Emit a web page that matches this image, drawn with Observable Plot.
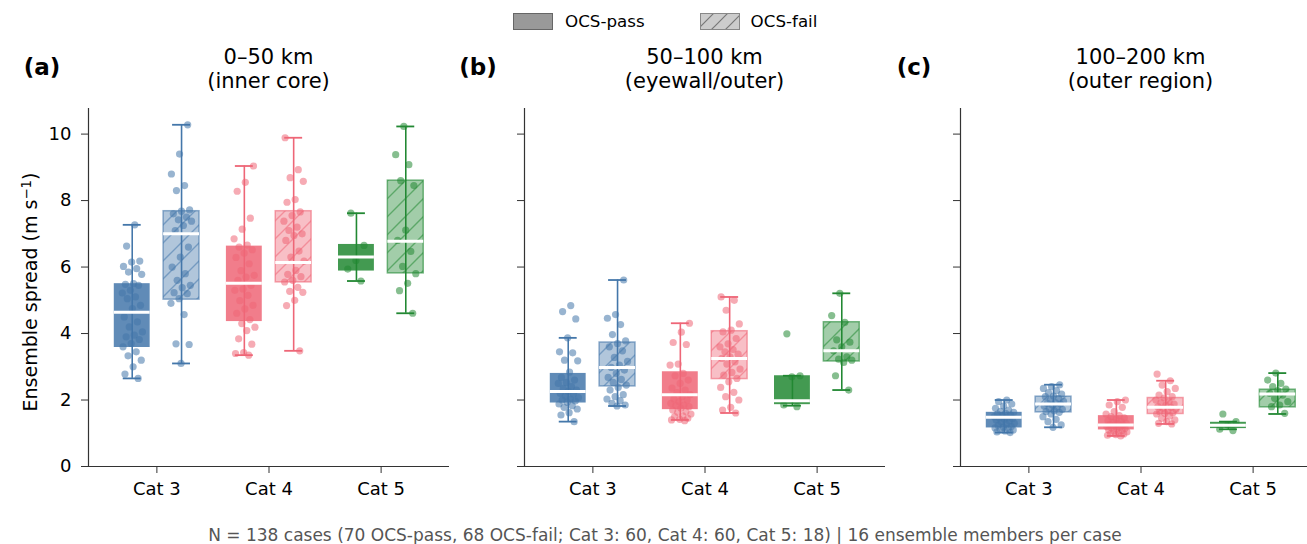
<!DOCTYPE html>
<html><head><meta charset="utf-8">
<script src="https://cdn.jsdelivr.net/npm/d3@7"></script>
<script src="https://cdn.jsdelivr.net/npm/@observablehq/plot@0.6"></script>
<style>
body{margin:0;background:#fff;font-family:"DejaVu Sans",sans-serif;}
#root{position:relative;width:1307px;height:544px;overflow:hidden;background:#fff;}
.c{position:absolute;white-space:nowrap;transform:translate(-50%,-50%);color:#000;}
sup{font-size:0.7em;vertical-align:0.45em;line-height:0;}
</style></head><body>
<svg width="0" height="0" style="position:absolute">
<defs>
<pattern id="hatch0" patternUnits="userSpaceOnUse" width="18" height="18"><rect width="18" height="18" fill="#4477AA" fill-opacity="0.42"/><path d="M-2,2 l4,-4 M0,18 l18,-18 M16,20 l4,-4" stroke="#4477AA" stroke-opacity="0.55" stroke-width="1.4"/></pattern>
<pattern id="hatch1" patternUnits="userSpaceOnUse" width="18" height="18"><rect width="18" height="18" fill="#EE6677" fill-opacity="0.42"/><path d="M-2,2 l4,-4 M0,18 l18,-18 M16,20 l4,-4" stroke="#EE6677" stroke-opacity="0.55" stroke-width="1.4"/></pattern>
<pattern id="hatch2" patternUnits="userSpaceOnUse" width="18" height="18"><rect width="18" height="18" fill="#228833" fill-opacity="0.42"/><path d="M-2,2 l4,-4 M0,18 l18,-18 M16,20 l4,-4" stroke="#228833" stroke-opacity="0.55" stroke-width="1.4"/></pattern>
<pattern id="hatchG" patternUnits="userSpaceOnUse" width="14" height="14"><rect width="14" height="14" fill="#999" fill-opacity="0.5"/><path d="M-2,2 l4,-4 M0,14 l14,-14 M12,16 l4,-4" stroke="#777" stroke-width="1.2"/></pattern>
</defs></svg>
<div id="root"></div>
<script>
// ---------- data ----------
const categories = ["Cat 3", "Cat 4", "Cat 5"];
const groups = ["OCS-pass", "OCS-fail"];
const panelTitles = ["0–50 km\n(inner core)", "50–100 km\n(eyewall/outer)", "100–200 km\n(outer region)"];
const panelLetters = ["(a)", "(b)", "(c)"];
const yTicks = [0, 2, 4, 6, 8, 10];

// Panel (a) 0–50 km: individual case spreads
const innerCat3Pass = [7.27, 6.63, 6.18, 6.15, 6.02, 5.95, 5.85, 5.78, 5.5, 5.48, 5.45, 5.3, 5.22, 5.1, 5.05, 4.85, 4.75, 4.5, 4.35, 4.2, 4.05, 3.95, 3.9, 3.82, 3.7, 3.6, 3.45, 3.33, 3.2, 3.0, 2.78, 2.65];
const innerCat3Fail = [10.28, 9.4, 8.8, 8.45, 8.3, 7.72, 7.68, 7.6, 7.5, 7.42, 7.38, 7.25, 7.1, 6.6, 6.3, 6.0, 5.8, 5.6, 5.45, 5.38, 5.23, 5.2, 5.05, 4.91, 4.57, 3.69, 3.67, 3.1];
const innerCat4Pass = [9.04, 8.55, 8.28, 7.47, 7.14, 6.85, 6.66, 6.6, 6.52, 6.42, 6.29, 6.1, 5.89, 5.75, 5.7, 5.6, 5.45, 5.34, 5.3, 5.15, 4.99, 4.85, 4.74, 4.61, 4.42, 4.3, 4.19, 4.09, 3.84, 3.68, 3.43, 3.4, 3.35];
const innerCat4Fail = [9.89, 8.93, 8.69, 8.58, 8.03, 7.95, 7.66, 7.55, 7.38, 7.2, 7.1, 7.0, 6.95, 6.8, 6.48, 6.3, 6.18, 5.9, 5.78, 5.71, 5.6, 5.55, 5.39, 5.27, 5.24, 5.0, 4.84, 3.48];
const innerCat5Pass = [7.62, 6.65, 6.2, 5.94, 5.58];
const innerCat5Fail = [10.23, 9.38, 9.08, 8.6, 8.45, 7.11, 6.8, 6.47, 6.02, 5.8, 5.51, 5.29, 4.61];
// box statistics [whisker low, Q1, median, Q3, whisker high] per category, pass then fail
const innerStats = [
  [[2.65, 3.58, 4.64, 5.50, 7.27], [3.10, 5.02, 7.00, 7.68, 10.28]],
  [[3.35, 4.36, 5.51, 6.63, 9.04], [3.48, 5.54, 6.14, 7.68, 9.89]],
  [[5.58, 5.88, 6.30, 6.68, 7.62], [4.61, 5.81, 6.78, 8.60, 10.23]]
];

// Panel (b) 50–100 km
const eyeCat3Pass = [4.84, 4.66, 4.44, 3.87, 3.45, 3.42, 3.2, 3.18, 2.84, 2.68, 2.6, 2.53, 2.5, 2.4, 2.35, 2.3, 2.26, 2.2, 2.17, 2.12, 2.07, 2.03, 2.0, 1.97, 1.93, 1.88, 1.83, 1.78, 1.73, 1.62, 1.55, 1.35];
const eyeCat3Fail = [5.61, 4.57, 4.46, 4.27, 3.97, 3.78, 3.7, 3.6, 3.48, 3.28, 3.16, 3.05, 2.98, 2.9, 2.8, 2.68, 2.62, 2.53, 2.45, 2.38, 2.3, 2.16, 2.1, 2.03, 1.98, 1.9, 1.85, 1.82];
const eyeCat4Pass = [4.31, 4.04, 3.73, 3.67, 3.08, 3.05, 2.8, 2.73, 2.6, 2.5, 2.36, 2.3, 2.22, 2.16, 2.1, 2.03, 2.0, 1.95, 1.9, 1.85, 1.83, 1.8, 1.75, 1.7, 1.65, 1.63, 1.58, 1.52, 1.5, 1.45, 1.42, 1.4, 1.38];
const eyeCat4Fail = [5.1, 5.0, 4.7, 4.29, 4.1, 4.05, 3.85, 3.69, 3.6, 3.52, 3.45, 3.38, 3.3, 3.25, 3.15, 3.08, 2.93, 2.83, 2.75, 2.65, 2.55, 2.38, 2.23, 2.1, 2.0, 1.78, 1.7, 1.61];
const eyeCat5Pass = [3.99, 2.73, 2.7, 1.85, 1.8];
const eyeCat5Fail = [5.21, 4.54, 4.34, 3.81, 3.74, 3.6, 3.48, 3.3, 3.23, 3.2, 3.13, 2.73, 2.30];
const eyeStats = [
  [[1.35, 1.91, 2.26, 2.80, 3.87], [1.82, 2.41, 2.98, 3.73, 5.61]],
  [[1.40, 1.71, 2.16, 2.85, 4.31], [1.61, 2.63, 3.25, 4.07, 5.10]],
  [[1.83, 1.86, 1.98, 2.73, 2.73], [2.30, 3.16, 3.48, 4.34, 5.21]]
];

// Panel (c) 100–200 km
const outerCat3Pass = [2.0, 1.95, 1.88, 1.82, 1.75, 1.7, 1.66, 1.63, 1.6, 1.58, 1.55, 1.52, 1.5, 1.48, 1.46, 1.44, 1.42, 1.4, 1.37, 1.34, 1.3, 1.27, 1.24, 1.2, 1.18, 1.16, 1.14, 1.12, 1.1, 1.07, 1.04, 1.02];
const outerCat3Fail = [2.46, 2.4, 2.35, 2.28, 2.22, 2.18, 2.12, 2.1, 2.05, 2.0, 1.96, 1.92, 1.9, 1.88, 1.85, 1.82, 1.78, 1.75, 1.72, 1.68, 1.65, 1.63, 1.58, 1.5, 1.42, 1.35, 1.25, 1.18];
const outerCat4Pass = [2.0, 1.95, 1.85, 1.78, 1.65, 1.58, 1.53, 1.5, 1.46, 1.42, 1.38, 1.35, 1.32, 1.3, 1.28, 1.26, 1.25, 1.23, 1.2, 1.18, 1.16, 1.14, 1.12, 1.1, 1.08, 1.06, 1.04, 1.02, 1.0, 0.98, 0.96, 0.94, 0.92];
const outerCat4Fail = [2.78, 2.58, 2.45, 2.35, 2.25, 2.15, 2.1, 2.06, 2.0, 1.95, 1.92, 1.88, 1.85, 1.8, 1.78, 1.75, 1.72, 1.68, 1.65, 1.62, 1.6, 1.58, 1.52, 1.45, 1.4, 1.35, 1.3, 1.28];
const outerCat5Pass = [1.58, 1.35, 1.25, 1.12, 1.08];
const outerCat5Fail = [2.81, 2.6, 2.5, 2.4, 2.33, 2.28, 2.2, 2.15, 2.05, 1.95, 1.85, 1.8, 1.6];
const outerStats = [
  [[1.02, 1.16, 1.48, 1.63, 2.00], [1.18, 1.63, 1.88, 2.10, 2.46]],
  [[0.92, 1.10, 1.25, 1.53, 2.00], [1.28, 1.58, 1.78, 2.06, 2.58]],
  [[1.12, 1.14, 1.24, 1.33, 1.35], [1.58, 1.78, 2.18, 2.31, 2.81]]
];

const footerText = "N = 138 cases (70 OCS-pass, 68 OCS-fail; Cat 3: 60, Cat 4: 60, Cat 5: 18) | 16 ensemble members per case";
const yLabelMain = "Ensemble spread (m s";
const yLabelExp = "−1";

// ---------- styling / layout ----------
const colors = ["#4477AA", "#EE6677", "#228833"];
const panelData = [
  {points: [[innerCat3Pass, innerCat3Fail], [innerCat4Pass, innerCat4Fail], [innerCat5Pass, innerCat5Fail]], stats: innerStats},
  {points: [[eyeCat3Pass, eyeCat3Fail], [eyeCat4Pass, eyeCat4Fail], [eyeCat5Pass, eyeCat5Fail]], stats: eyeStats},
  {points: [[outerCat3Pass, outerCat3Fail], [outerCat4Pass, outerCat4Fail], [outerCat5Pass, outerCat5Fail]], stats: outerStats}
];
const axLeft = [88, 524, 960];
const axWidth = 361;
const X0 = -0.61, X1 = 2.61;
const OFF = 0.22, HALF = 0.16, CAP = 0.08;

const root = document.getElementById("root");
function addText(txt, x, y, css) {
  const d = document.createElement("div");
  d.className = "c";
  d.style.left = x + "px"; d.style.top = y + "px";
  Object.assign(d.style, css || {});
  d.textContent = txt;
  root.appendChild(d);
  return d;
}

panelData.forEach((pd, p) => {
  const boxes = [], pts = [];
  categories.forEach((cat, ci) => groups.forEach((g, gi) => {
    const s = pd.stats[ci][gi];
    const xc = ci + (gi === 0 ? -OFF : OFF);
    boxes.push({ci, gi, x: xc, lo: s[0], q1: s[1], med: s[2], q3: s[3], hi: s[4]});
    pd.points[ci][gi].forEach((v, k) => {
      const j = (((k + 1) * 0.6180339887 + ci * 0.31 + gi * 0.17) % 1) - 0.5;
      pts.push({ci, gi, x: xc + j * 0.19, v});
    });
  }));
  const col = d => colors[d.ci];
  const marginLeft = p === 0 ? 88 : 30;
  const plot = Plot.plot({
    width: marginLeft + axWidth, height: 406,
    marginTop: 8, marginBottom: 40, marginLeft, marginRight: 0,
    x: {domain: [X0, X1]},
    y: {domain: [0, 10.77]},
    style: {fontFamily: "DejaVu Sans", fontSize: "18px", color: "#000", background: "transparent", overflow: "visible"},
    marks: [
      Plot.ruleX(boxes, {x: "x", y1: "lo", y2: "hi", stroke: col, strokeWidth: 1.6}),
      Plot.ruleY(boxes, {y: "lo", x1: d => d.x - CAP, x2: d => d.x + CAP, stroke: col, strokeWidth: 1.8}),
      Plot.ruleY(boxes, {y: "hi", x1: d => d.x - CAP, x2: d => d.x + CAP, stroke: col, strokeWidth: 1.8}),
      Plot.rect(boxes.filter(d => d.gi === 0), {x1: d => d.x - HALF, x2: d => d.x + HALF, y1: "q1", y2: "q3", fill: col, fillOpacity: 0.85}),
      Plot.rect(boxes.filter(d => d.gi === 1), {x1: d => d.x - HALF, x2: d => d.x + HALF, y1: "q1", y2: "q3", fill: d => `url(#hatch${d.ci})`, stroke: col, strokeOpacity: 0.6, strokeWidth: 1.5}),
      Plot.dot(pts, {x: "x", y: "v", r: 3.6, fill: col, fillOpacity: 0.55, stroke: "none"}),
      Plot.ruleY(boxes, {y: "med", x1: d => d.x - HALF, x2: d => d.x + HALF, stroke: "white", strokeWidth: 3}),
      Plot.ruleY([0], {stroke: "#333", strokeWidth: 1.2}),
      Plot.ruleX([X0], {stroke: "#333", strokeWidth: 1.2}),
      Plot.axisX([0, 1, 2], {tickFormat: i => categories[i], tickSize: 7, tickPadding: 9, fontSize: 18, label: null, stroke: "#333"}),
      Plot.axisY(yTicks, {tickFormat: p === 0 ? (d => String(d)) : (() => ""), tickSize: 7, tickPadding: 10, fontSize: 18, label: null, stroke: "#333"})
    ]
  });
  plot.style.position = "absolute";
  plot.style.left = (axLeft[p] - marginLeft) + "px";
  plot.style.top = "100px";
  root.appendChild(plot);

  const cx = axLeft[p] + axWidth / 2;
  const lines = panelTitles[p].split("\n");
  addText(lines[0], cx, 57, {fontSize: "21px"});
  addText(lines[1], cx, 81, {fontSize: "21px"});
  addText(panelLetters[p], axLeft[p] - 46, 67, {fontSize: "23px", fontWeight: "bold"});
});

// y label (with superscript exponent)
const yl = addText("", 30, 292, {fontSize: "19px", transform: "translate(-50%,-50%) rotate(-90deg)"});
yl.appendChild(document.createTextNode(yLabelMain));
const sp = document.createElement("sup"); sp.textContent = yLabelExp; yl.appendChild(sp);
yl.appendChild(document.createTextNode(")"));
// footer
addText(footerText, 665, 535, {fontSize: "17px", color: "#555"});

// legend
const leg = document.createElement("div");
leg.style.cssText = "position:absolute;left:513px;top:11px;display:flex;align-items:center;font-size:16.7px;color:#000;";
leg.innerHTML =
  '<svg width="40" height="17"><rect x="0.5" y="0.5" width="39" height="16" fill="#999" stroke="#666"/></svg>' +
  '<span style="margin-left:12px;margin-right:55px">' + groups[0] + '</span>' +
  '<svg width="40" height="17"><rect x="0.5" y="0.5" width="39" height="16" fill="url(#hatchG)" stroke="#888"/></svg>' +
  '<span style="margin-left:11px">' + groups[1] + '</span>';
root.appendChild(leg);
</script>
</body></html>
